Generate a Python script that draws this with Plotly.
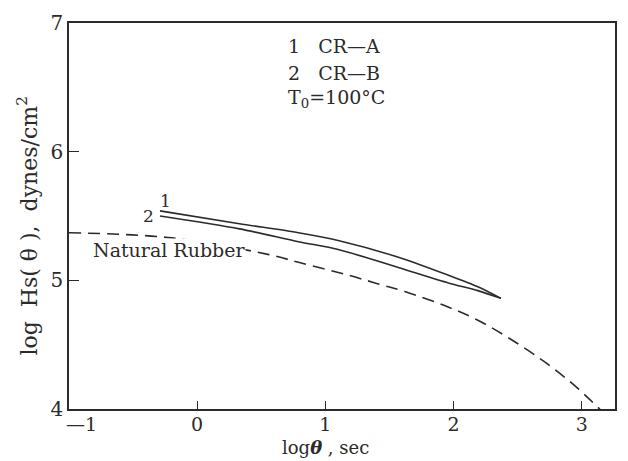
import plotly.graph_objects as go

# CR-A (curve 1)
x_cr_a = [-0.29, 0.33, 0.79, 1.10, 1.57, 1.96, 2.19, 2.37]
y_cr_a = [5.54, 5.44, 5.37, 5.31, 5.18, 5.04, 4.95, 4.86]
# CR-B (curve 2)
x_cr_b = [-0.29, 0.33, 0.79, 1.10, 1.57, 1.96, 2.19, 2.37]
y_cr_b = [5.50, 5.40, 5.30, 5.24, 5.10, 4.98, 4.92, 4.86]
# Natural Rubber (dashed)
x_nr = [-1.0, -0.20, 0.56, 0.79, 1.18, 1.42, 1.63, 1.94, 2.19, 2.45, 2.72, 2.97, 3.22]
y_nr = [5.37, 5.33, 5.20, 5.14, 5.04, 4.97, 4.91, 4.80, 4.69, 4.54, 4.36, 4.16, 3.92]

x_ticks = [-1, 0, 1, 2, 3]
x_ticktext = ["", "0", "1", "2", "3"]
x_first_label = "\u20141"
y_ticks = [4, 5, 6, 7]
y_ticktext = ["4", "5", "6", "7"]

INK = "#2b2b2b"
FONT = "DejaVu Serif"

fig = go.Figure()
fig.add_trace(go.Scatter(x=x_nr, y=y_nr, mode="lines",
                         line=dict(color=INK, width=1.6, dash="12px,7px", shape="spline", smoothing=1.0),
                         showlegend=False, hoverinfo="skip"))
fig.add_trace(go.Scatter(x=x_cr_a, y=y_cr_a, mode="lines",
                         line=dict(color=INK, width=1.6, shape="spline", smoothing=0.8),
                         showlegend=False))
fig.add_trace(go.Scatter(x=x_cr_b, y=y_cr_b, mode="lines",
                         line=dict(color=INK, width=1.6, shape="spline", smoothing=0.8),
                         showlegend=False))

ann = [
    dict(x=-0.22, y=5.235, text="Natural Rubber", showarrow=False, xanchor="center", yanchor="middle",
         bgcolor="white", borderpad=0, font=dict(size=19)),
    dict(x=-0.25, y=5.62, text="1", showarrow=False, font=dict(size=17)),
    dict(x=-0.38, y=5.50, text="2", showarrow=False, font=dict(size=17)),
    dict(x=0.69, y=6.82, text="1\u00a0\u00a0\u00a0CR\u2014A", showarrow=False, xanchor="left", yanchor="middle",
         font=dict(size=19)),
    dict(x=0.69, y=6.61, text="2\u00a0\u00a0\u00a0CR\u2014B", showarrow=False, xanchor="left", yanchor="middle",
         font=dict(size=19)),
    dict(x=0.69, y=6.41, text="T<sub>0</sub>=100\u00b0C", showarrow=False, xanchor="left", yanchor="middle",
         font=dict(size=19)),
    dict(x=-0.077, y=0.475, xref="paper", yref="paper", xanchor="center", yanchor="middle",
         text="log\u00a0\u00a0Hs(\u00a0\u03b8\u00a0),\u00a0\u00a0dynes/cm<sup>2</sup>",
         textangle=-90, showarrow=False, font=dict(size=22)),
    dict(x=0.47, y=-0.1, xref="paper", yref="paper", xanchor="center", yanchor="middle",
         text="log<b><i>\u03b8</i></b>\u00a0,\u00a0sec",
         showarrow=False, font=dict(size=18)),
    dict(x=x_ticks[0], y=-0.04, xref="x", yref="paper", xanchor="center", yanchor="middle",
         xshift=12, text=x_first_label, showarrow=False, font=dict(size=19)),
]

fig.update_layout(
    width=628, height=461,
    margin=dict(l=69, r=11, t=15, b=52),
    paper_bgcolor="white", plot_bgcolor="white",
    font=dict(family=FONT, color=INK, size=20),
    annotations=ann,
    xaxis=dict(range=[-1.0, 3.26], tickvals=x_ticks, ticktext=x_ticktext,
               ticks="inside", ticklen=8, tickwidth=1.4, tickcolor=INK,
               showline=True, linecolor=INK, linewidth=1.6, mirror=True,
               showgrid=False, zeroline=False, tickfont=dict(size=19),
               ticklabelstandoff=-3),
    yaxis=dict(range=[4, 7], tickvals=y_ticks, ticktext=y_ticktext,
               ticks="inside", ticklen=10, tickwidth=1.4, tickcolor=INK,
               showline=True, linecolor=INK, linewidth=1.6, mirror=True,
               showgrid=False, zeroline=False, tickfont=dict(size=20)),
)

fig.write_html("out.html")
